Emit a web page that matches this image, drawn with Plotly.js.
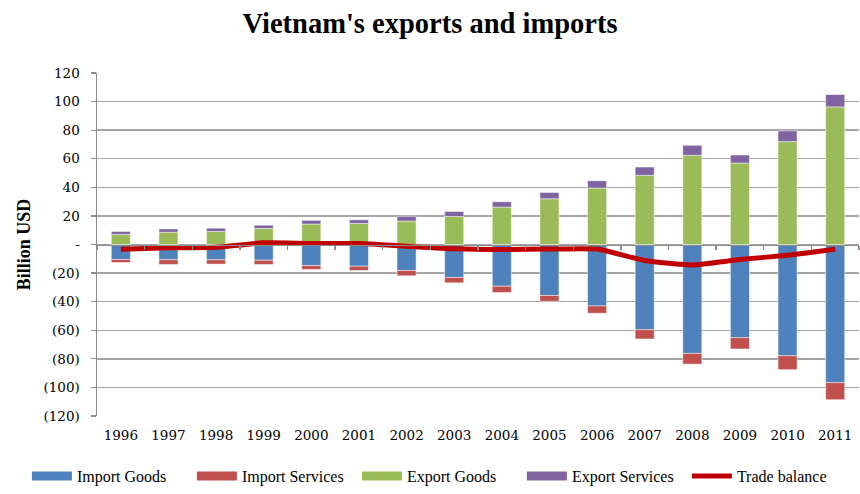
<!DOCTYPE html>
<html>
<head>
<meta charset="utf-8">
<script src="https://cdn.plot.ly/plotly-3.0.1.min.js"></script>
<style>
html,body{margin:0;padding:0;background:#fff;}
#chart{width:860px;height:494px;}
</style>
</head>
<body>
<div id="chart"></div>
<script>
var years = ['1996','1997','1998','1999','2000','2001','2002','2003','2004','2005','2006','2007','2008','2009','2010','2011'];
var importGoods    = [-10.5,-10.7,-10.7,-11.0,-14.7,-15.2,-18.2,-23.1,-29.2,-35.7,-43.0,-59.6,-76.2,-65.2,-77.8,-96.7];
var importServices = [-2.1,-3.3,-3.0,-3.0,-2.8,-3.0,-3.7,-3.7,-4.4,-4.0,-5.1,-6.5,-7.5,-7.9,-9.8,-11.9];
var exportGoods    = [7.0,8.6,9.1,11.2,14.3,14.7,16.4,19.6,26.2,32.0,39.5,48.4,62.4,57.0,72.0,96.3];
var exportServices = [2.1,2.3,2.3,2.3,2.6,2.6,3.3,3.5,3.7,4.4,5.1,5.8,7.0,5.6,7.5,8.6];
var tradeBalance   = [-3.3,-2.3,-1.9,1.2,0.7,0.7,-1.2,-3.0,-3.5,-3.2,-3.2,-11.2,-14.3,-10.5,-7.5,-3.3];
var yTickVals  = [120,100,80,60,40,20,0,-20,-40,-60,-80,-100,-120];
var yTickText  = ['120','100','80','60','40','20','-','(20)','(40)','(60)','(80)','(100)','(120)'];
var seriesNames  = ['Import Goods','Import Services','Export Goods','Export Services'];
var seriesColors = ['#4F81BD','#C0504D','#9BBB59','#8064A2'];
var seriesValues = [importGoods, importServices, exportGoods, exportServices];

var edge = {color:'rgba(255,255,255,0.6)', width:0.8};
var noData = years.map(function(){return null;});
var traces = [];
seriesNames.forEach(function(name, i){
  traces.push({type:'bar', name:name, legendgroup:name, showlegend:false, x:years, y:seriesValues[i],
               marker:{color:seriesColors[i], line:edge}});
});
seriesNames.forEach(function(name, i){
  traces.push({type:'scatter', mode:'lines', name:name, legendgroup:name, x:years, y:noData,
               line:{color:seriesColors[i], width:9}, hoverinfo:'skip'});
});
traces.push({type:'scatter', mode:'lines', name:'Trade balance', x:years, y:tradeBalance,
   line:{color:'#C00000', width:5, shape:'spline', smoothing:0.5}});
traces.push({type:'scatter', mode:'lines', x:years, y:noData,
   xaxis:'x2', showlegend:false, hoverinfo:'skip'});

var layout = {
  width:860, height:494,
  margin:{l:97, r:1, t:73, b:78},
  paper_bgcolor:'#fff', plot_bgcolor:'#fff',
  barmode:'relative', bargap:0.6,
  title:{text:"Vietnam's exports and imports", x:0.5, xanchor:'center', y:0.953, yanchor:'middle',
         font:{family:'Liberation Serif', size:28.5, color:'#000', weight:'bold'}},
  xaxis:{type:'category', categoryarray:years, range:[-0.5,15.5], showline:false, showgrid:false,
         zeroline:false, ticks:'', ticklabelstandoff:9,
         tickfont:{family:'DejaVu Serif', size:13.5, color:'#000'}},
  xaxis2:{type:'category', categoryarray:years, range:[-0.5,15.5], overlaying:'x', anchor:'free',
          position:0.5, showline:true, linecolor:'#8c8c8c', linewidth:1.5, ticks:'outside',
          tickson:'boundaries', ticklen:4, tickcolor:'#8c8c8c', tickwidth:1.3, showticklabels:false,
          showgrid:false, zeroline:false},
  yaxis:{range:[-120,120], tickvals:yTickVals, ticktext:yTickText, showline:true, linecolor:'#8c8c8c',
         linewidth:1.5, ticks:'outside', ticklen:5, tickcolor:'#8c8c8c', tickwidth:1.3,
         ticklabelstandoff:8, showgrid:true, gridcolor:'#a6a6a6', gridwidth:1.4, zeroline:false,
         tickfont:{family:'DejaVu Serif', size:13.5, color:'#000'},
         title:{text:'Billion USD', standoff:8, font:{family:'Liberation Serif', size:18, color:'#000', weight:'bold'}}},
  legend:{orientation:'h', x:-0.092, xanchor:'left', y:-0.225, yanchor:'bottom',
          font:{family:'Liberation Serif', size:16, color:'#000'}, itemwidth:40, entrywidth:110,
          tracegroupgap:0, traceorder:'normal', borderwidth:0},
  showlegend:true
};
Plotly.newPlot('chart', traces, layout, {displayModeBar:false, staticPlot:true});
</script>
</body>
</html>
